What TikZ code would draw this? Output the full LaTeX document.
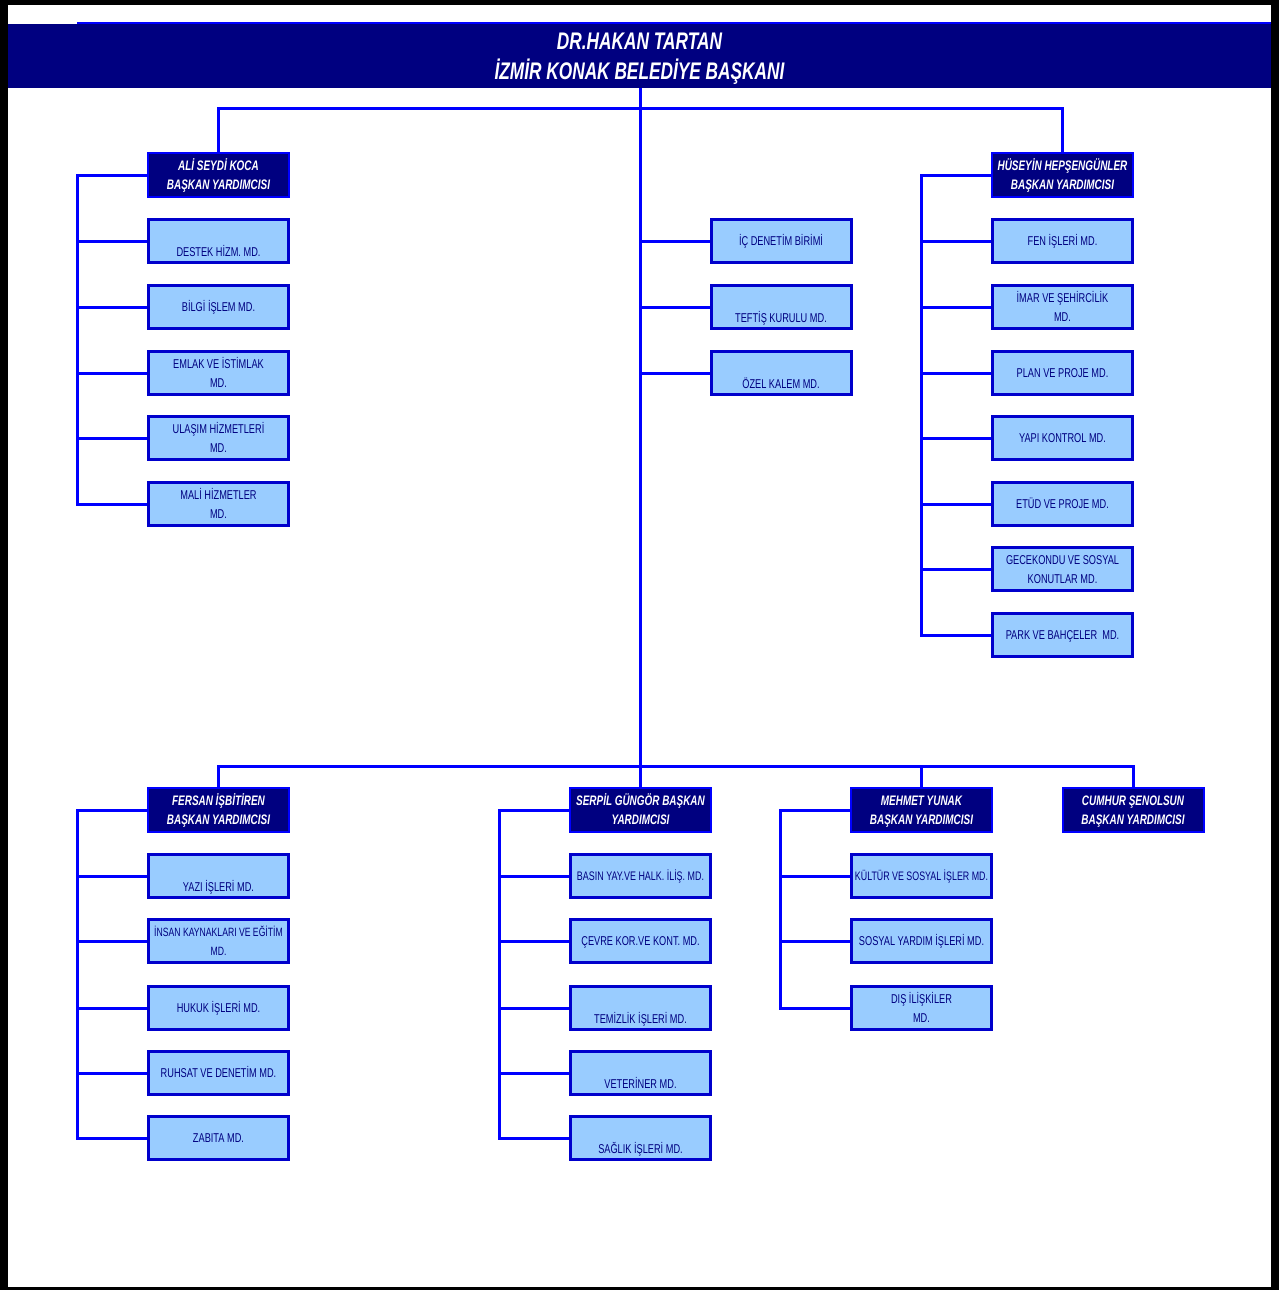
\documentclass[tikz,border=0pt]{standalone}
\usepackage{fontspec}
\setmainfont{Liberation Sans}[FakeStretch=0.72]
\usetikzlibrary{calc}
\definecolor{navy}{RGB}{0,0,128}
\definecolor{lblue}{RGB}{153,204,255}
\definecolor{bbord}{RGB}{0,0,204}
\definecolor{conn}{RGB}{0,0,255}
\tikzset{
  box/.style={rectangle, minimum width=140pt, minimum height=43pt, inner sep=0pt, align=center},
  light/.style={box, fill=lblue, draw=bbord, line width=3pt, text=navy,
    font=\fontsize{12.8}{19}\selectfont, text height=9.5pt, text depth=0pt},
  dark/.style={box, minimum width=141pt, minimum height=44pt, fill=navy, draw=conn, line width=2pt, text=white,
    font=\fontsize{13.8}{19}\selectfont\bfseries\itshape, text height=29pt, text depth=0pt},
  two/.style={text height=28.5pt},
  low/.style={text height=30pt},
  link/.style={draw=conn, line width=3pt},
}
\begin{document}
\begin{tikzpicture}[x=1pt,y=-1pt]
\useasboundingbox (0,0) rectangle (1279,1290);
% frame
\fill[white] (0,0) rectangle (1279,1290);
\fill[black] (0,0) rectangle (1279,5);
\fill[black] (0,0) rectangle (8,1290);
\fill[black] (1271,0) rectangle (1279,1290);
\fill[black] (0,1287) rectangle (1279,1290);
% header
\node[fill=navy, minimum width=1263pt, minimum height=64pt, inner sep=0pt, text=white,
  font=\fontsize{24}{30}\selectfont\bfseries\itshape, align=center, text height=47.5pt, text depth=0pt]
  (head) at (639.5,56) {DR.HAKAN TARTAN\\İZMİR KONAK BELEDİYE BAŞKANI};
\coordinate (hl) at (77,23.5);
\draw[conn, line width=2pt] (hl) -- (hl -| head.east);
\coordinate (t1) at (640,108);
\coordinate (t2) at (640,766);

% Ali
\node[dark] (ali) at (218.5,175) {ALİ SEYDİ KOCA\\BAŞKAN YARDIMCISI};
\node[light,low] (a1) at (218.5,241) {DESTEK HİZM. MD.};
\node[light] (a2) at (218.5,307) {BİLGİ İŞLEM MD.};
\node[light,two] (a3) at (218.5,373) {EMLAK VE İSTİMLAK\\MD.};
\node[light,two] (a4) at (218.5,438) {ULAŞIM HİZMETLERİ\\MD.};
\node[light,two] (a5) at (218.5,504) {MALİ HİZMETLER\\MD.};

% middle
\node[light] (m1) at (781,241) {İÇ DENETİM BİRİMİ};
\node[light,low] (m2) at (781,307) {TEFTİŞ KURULU MD.};
\node[light,low] (m3) at (781,373) {ÖZEL KALEM MD.};

% Huseyin
\node[dark] (hus) at (1062.5,175) {HÜSEYİN HEPŞENGÜNLER\\BAŞKAN YARDIMCISI};
\node[light] (h1) at (1062.5,241) {FEN İŞLERİ MD.};
\node[light,two] (h2) at (1062.5,307) {İMAR VE ŞEHİRCİLİK\\MD.};
\node[light] (h3) at (1062.5,373) {PLAN VE PROJE MD.};
\node[light] (h4) at (1062.5,438) {YAPI KONTROL MD.};
\node[light] (h5) at (1062.5,504) {ETÜD VE PROJE MD.};
\node[light,two] (h6) at (1062.5,569) {GECEKONDU VE SOSYAL\\KONUTLAR MD.};
\node[light] (h7) at (1062.5,635) {PARK VE BAHÇELER\ \ MD.};

% Fersan
\node[dark] (fer) at (218.5,810) {FERSAN İŞBİTİREN\\BAŞKAN YARDIMCISI};
\node[light,low] (f1) at (218.5,876) {YAZI İŞLERİ MD.};
\node[light,two,font=\fontsize{12}{19}\selectfont] (f2) at (218.5,941) {İNSAN KAYNAKLARI VE EĞİTİM\\MD.};
\node[light] (f3) at (218.5,1008) {HUKUK İŞLERİ MD.};
\node[light] (f4) at (218.5,1073) {RUHSAT VE DENETİM MD.};
\node[light] (f5) at (218.5,1138) {ZABITA MD.};

% Serpil
\node[dark] (ser) at (640.5,810) {SERPİL GÜNGÖR BAŞKAN\\YARDIMCISI};
\node[light,font=\fontsize{12.4}{19}\selectfont] (s1) at (640.5,876) {BASIN YAY.VE HALK. İLİŞ. MD.};
\node[light] (s2) at (640.5,941) {ÇEVRE KOR.VE KONT. MD.};
\node[light,low] (s3) at (640.5,1008) {TEMİZLİK İŞLERİ MD.};
\node[light,low] (s4) at (640.5,1073) {VETERİNER MD.};
\node[light,low] (s5) at (640.5,1138) {SAĞLIK İŞLERİ MD.};

% Mehmet
\node[dark] (meh) at (921.5,810) {MEHMET YUNAK\\BAŞKAN YARDIMCISI};
\node[light,font=\fontsize{12.3}{19}\selectfont] (k1) at (921.5,876) {KÜLTÜR VE SOSYAL İŞLER MD.};
\node[light] (k2) at (921.5,941) {SOSYAL YARDIM İŞLERİ MD.};
\node[light,two] (k3) at (921.5,1008) {DIŞ İLİŞKİLER\\MD.};

% Cumhur
\node[dark] (cum) at (1133,810) {CUMHUR ŞENOLSUN\\BAŞKAN YARDIMCISI};

% connectors
\draw[link] (head.south -| t1) -- (t2);
\draw[link] (ali.north) |- (t1) -| (hus.north);
\draw[link] (fer.north) |- (t2) -| (cum.north);
\draw[link] (ser.north) -- (ser.north |- t2);
\draw[link] (meh.north) -- (meh.north |- t2);
\foreach \c in {a1,a2,a3,a4,a5} \draw[link] (ali.west) -- ++(-70,0) |- (\c.west);
\foreach \c in {m1,m2,m3} \draw[link] (\c.west) -- (\c.west -| t1);
\foreach \c in {h1,h2,h3,h4,h5,h6,h7} \draw[link] (hus.west) -- ++(-70,0) |- (\c.west);
\foreach \c in {f1,f2,f3,f4,f5} \draw[link] (fer.west) -- ++(-70,0) |- (\c.west);
\foreach \c in {s1,s2,s3,s4,s5} \draw[link] (ser.west) -- ++(-70,0) |- (\c.west);
\foreach \c in {k1,k2,k3} \draw[link] (meh.west) -- ++(-70,0) |- (\c.west);
\end{tikzpicture}
\end{document}
